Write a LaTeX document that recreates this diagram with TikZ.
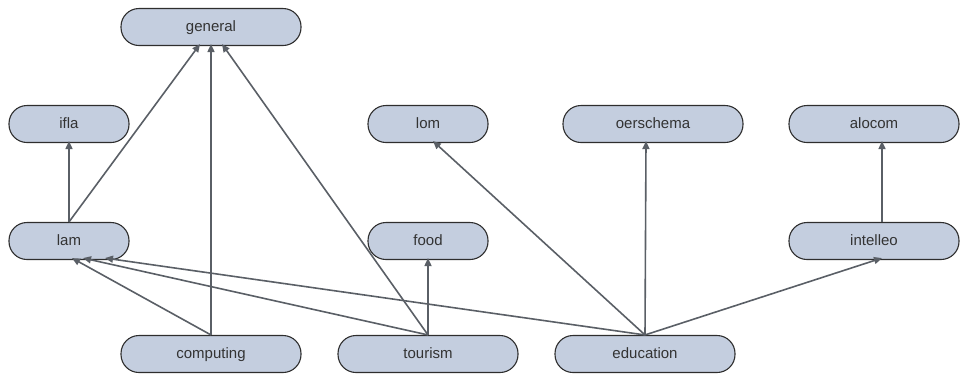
\documentclass[tikz,border=0pt]{standalone}
\usepackage{fontspec}
\setmainfont{Liberation Sans}
\usetikzlibrary{arrows.meta}
\definecolor{boxfill}{HTML}{C4CEDF}
\definecolor{boxline}{HTML}{2E2E2E}
\definecolor{edgecol}{HTML}{5A5F66}
\begin{document}
\begin{tikzpicture}[x=1pt,y=-1pt,
  box/.style={draw=boxline, fill=boxfill, line width=1.1pt, rounded corners=18pt,
    minimum height=37pt, inner sep=0pt, text height=10pt, text depth=2pt,
    font=\fontsize{15}{18}\selectfont, text=black!80},
  w120/.style={minimum width=120pt},
  w170/.style={minimum width=170pt},
  w180/.style={minimum width=180pt},
  edge/.style={draw=edgecol, line width=1.6pt, -{Triangle[length=8pt,width=7pt]}}]
\useasboundingbox (0,0) rectangle (960,373);
\node[box,w180] (general) at (211,27) {general};
\node[box,w120] (ifla) at (69,124) {ifla};
\node[box,w120] (lom) at (428,124) {lom};
\node[box,w180] (oerschema) at (653,124) {oerschema};
\node[box,w170] (alocom) at (874,124) {alocom};
\node[box,w120] (lam) at (69,241) {lam};
\node[box,w120] (food) at (428,241) {food};
\node[box,w170] (intelleo) at (874,241) {intelleo};
\node[box,w180] (computing) at (211,354) {computing};
\node[box,w180] (tourism) at (428,354) {tourism};
\node[box,w180] (education) at (645,354) {education};
\draw[edge] (lam.north) -- ([yshift=2pt]ifla.south);
\draw[edge] (lam.north) -- ([xshift=-11pt,yshift=2pt]general.south);
\draw[edge] (computing.north) -- ([yshift=2pt]general.south);
\draw[edge] (tourism.north) -- ([xshift=11pt,yshift=2pt]general.south);
\draw[edge] (computing.north) -- ([xshift=3pt,yshift=2pt]lam.south);
\draw[edge] (tourism.north) -- ([xshift=14pt,yshift=2pt]lam.south);
\draw[edge] (education.north) -- ([xshift=36pt,yshift=2pt]lam.south);
\draw[edge] (tourism.north) -- ([yshift=2pt]food.south);
\draw[edge] (education.north) -- ([xshift=5pt,yshift=2pt]lom.south);
\draw[edge] (education.north) -- ([xshift=-7pt,yshift=2pt]oerschema.south);
\draw[edge] (education.north) -- ([xshift=8pt,yshift=2pt]intelleo.south);
\draw[edge] ([xshift=8pt]intelleo.north) -- ([xshift=8pt,yshift=2pt]alocom.south);
\end{tikzpicture}
\end{document}
